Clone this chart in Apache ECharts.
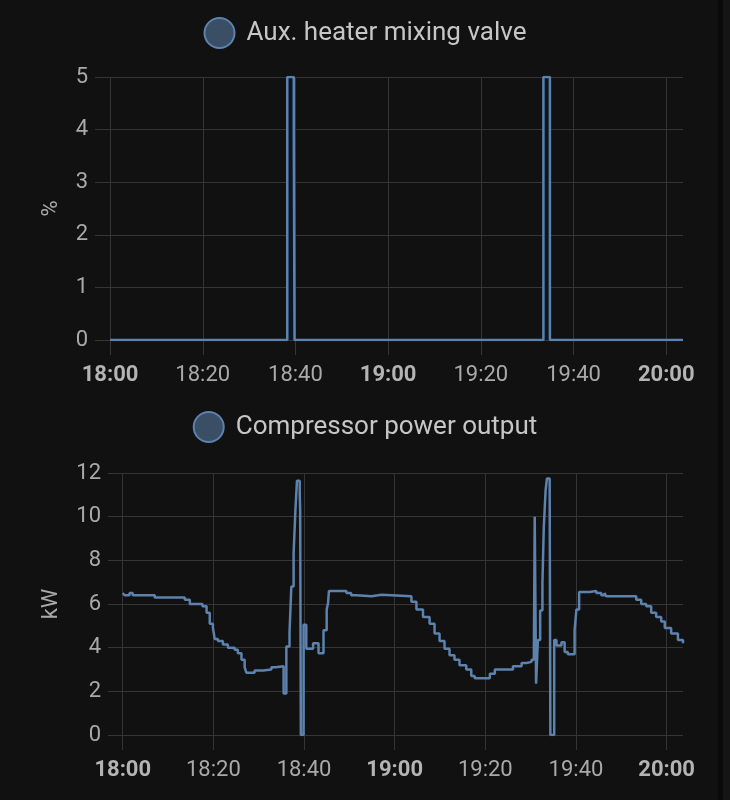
<!DOCTYPE html>
<html>
<head>
<meta charset="utf-8">
<style>
html,body{margin:0;padding:0;background:#111111;}
#chart{width:730px;height:800px;}
</style>
<script src="https://cdn.jsdelivr.net/npm/echarts@6/dist/echarts.min.js"></script>
</head>
<body>
<div id="chart"></div>
<script>
// ---- data ----
const axisStart = '17:56:45';
const axisEnd = '20:03:37';
const xTicks = ['18:00:00','18:20:00','18:40:00','19:00:00','19:20:00','19:40:00','20:00:00'];

const auxName = 'Aux. heater mixing valve';
const auxUnit = '%';
const auxTimes  = ['18:00:00','18:38:14','18:39:38','18:39:48','19:33:30','19:34:54','20:03:37'];
const auxValues = [0, 5, 4, 0, 5, 0, 0];

const compName = 'Compressor power output';
const compUnit = 'kW';
const compTimes = [
 '18:00:00','18:00:26','18:01:30','18:02:12','18:07:04','18:13:42','18:14:48','18:17:36','18:18:30','18:19:12',
 '18:19:54','18:20:18','18:21:00','18:22:06','18:23:12','18:24:42','18:25:24','18:26:12','18:26:54','18:27:18',
 '18:29:06','18:31:00','18:32:48','18:33:45','18:35:30','18:36:06','18:36:48','18:37:12','18:37:42','18:38:06',
 '18:38:27','18:39:03','18:39:09','18:39:18','18:39:54','18:40:30','18:42:00','18:43:12','18:44:18','18:45:00',
 '18:45:18','18:45:30','18:49:21','18:50:24','18:51:33','18:54:54','18:57:06','19:03:42','19:04:48','19:06:15',
 '19:07:42','19:08:48','19:09:54','19:11:00','19:12:06','19:13:12','19:14:18','19:15:48','19:16:54','19:17:39',
 '19:18:06','19:21:00','19:22:06','19:23:12','19:26:06','19:28:00','19:29:06','19:30:12','19:30:42','19:30:54',
 '19:31:12','19:31:36','19:32:06','19:32:36','19:32:54','19:33:18','19:33:36','19:34:12','19:34:21','19:35:12',
 '19:35:42','19:36:48','19:37:30','19:38:12','19:39:42','19:40:06','19:40:42','19:43:00','19:44:30','19:45:36',
 '19:46:18','19:46:42','19:52:36','19:53:18','19:54:24','19:55:30','19:56:36','19:57:42','19:58:48','19:59:36',
 '20:01:00','20:02:30','20:03:37'
];
const compValues = [
 6.5, 6.4, 6.5, 6.4, 6.3, 6.2, 6.0, 5.9, 5.6, 5.1,
 4.9, 4.4, 4.3, 4.15, 4.0, 3.9, 3.75, 3.45, 3.1, 2.85,
 2.95, 3.0, 3.1, 3.15, 1.9, 4.05, 4.7, 6.8, 8.3, 10.3,
 11.65, 11.1, 10.3, 0, 5.05, 3.95, 4.2, 3.75, 4.8, 5.75,
 6.05, 6.6, 6.5, 6.4, 6.35, 6.42, 6.35, 6.1, 5.75, 5.4,
 5.1, 4.65, 4.3, 3.95, 3.65, 3.45, 3.2, 3.0, 2.7, 2.6,
 2.6, 2.8, 3.0, 3.0, 3.15, 3.3, 3.35, 3.45, 3.5, 10.0,
 2.35, 4.35, 5.7, 6.95, 9.5, 11.2, 11.75, 11.2, 0, 4.35,
 4.1, 4.25, 3.8, 3.7, 4.8, 5.75, 6.55, 6.6, 6.5, 6.4,
 6.5, 6.35, 6.35, 6.2, 6.0, 5.9, 5.6, 5.4, 5.2, 4.9,
 4.65, 4.35, 4.2
];

// ---- helpers ----
function toDate(s){
  const p = s.split(':').map(Number);
  return new Date(2024, 0, 15, p[0], p[1], p[2]).getTime();
}
function pairs(times, values){ return times.map((t,i)=>[toDate(t), values[i]]); }

const lineColor = '#5c82ad';
const gridColor = '#353535';
const labelColor = '#a9a9a9';
const FONT = 'Roboto, "Noto Sans", sans-serif';
const tickValues = xTicks.map(toDate);

function xAxis(gridIndex){
  return {
    type: 'value', gridIndex,
    min: toDate(axisStart), max: toDate(axisEnd),
    axisLine: {show: false},
    axisTick: {show: true, length: 15, customValues: tickValues, lineStyle: {color: gridColor, width: 1}},
    splitLine: {show: true, lineStyle: {color: gridColor, width: 1}},
    axisLabel: {
      margin: 24, color: labelColor, fontSize: 22, fontFamily: FONT,
      customValues: tickValues, hideOverlap: false,
      formatter: function(v){
        const d = new Date(v);
        const hh = String(d.getHours()).padStart(2,'0');
        const mm = String(d.getMinutes()).padStart(2,'0');
        return mm === '00' ? '{b|' + hh + ':' + mm + '}' : hh + ':' + mm;
      },
      rich: { b: {fontWeight: 'bold', fontSize: 22, color: '#b4b4b4', fontFamily: FONT} }
    }
  };
}
function yAxis(gridIndex, max, interval, name, gap){
  return {
    type: 'value', gridIndex, min: 0, max, interval,
    name, nameLocation: 'middle', nameGap: gap, nameRotate: 90,
    nameTextStyle: {color: labelColor, fontSize: 22, fontFamily: FONT},
    axisLine: {show: false}, axisTick: {show: false},
    splitLine: {show: true, lineStyle: {color: gridColor, width: 1}},
    axisLabel: {margin: 7, color: labelColor, fontSize: 22, fontFamily: FONT}
  };
}
function legend(name, top){
  return {
    data: [name], top, left: 'center',
    icon: 'circle', itemWidth: 30, itemHeight: 30, itemGap: 10,
    itemStyle: {color: 'rgba(92,130,173,0.55)', borderColor: lineColor, borderWidth: 2},
    lineStyle: {width: 0},
    textStyle: {color: '#c6c6c6', fontSize: 26, fontFamily: FONT, padding: [0,0,0,7]}
  };
}

const chart = echarts.init(document.getElementById('chart'), null, {renderer: 'canvas'});
chart.setOption({
  backgroundColor: '#111111',
  animation: false,
  legend: [legend(auxName, 12), legend(compName, 406)],
  grid: [
    {left: 95, right: 47, top: 77, height: 263},
    {left: 108, right: 47, top: 473, height: 262}
  ],
  xAxis: [xAxis(0), xAxis(1)],
  yAxis: [yAxis(0, 5, 1, auxUnit, 33), yAxis(1, 12, 2, compUnit, 46)],
  graphic: [
    {type: 'rect', shape: {x: 718, y: 0, width: 5, height: 800}, style: {fill: '#0a0a0a'}, silent: true},
    {type: 'rect', shape: {x: 723, y: 0, width: 7, height: 800}, style: {fill: '#151515'}, silent: true}
  ],
  series: [
    {
      name: auxName, type: 'line', xAxisIndex: 0, yAxisIndex: 0,
      step: 'end', showSymbol: false, symbol: 'circle',
      itemStyle: {color: lineColor},
      lineStyle: {color: lineColor, width: 2.5},
      areaStyle: {color: '#0b1523', opacity: 1},
      data: pairs(auxTimes, auxValues)
    },
    {
      name: compName, type: 'line', xAxisIndex: 1, yAxisIndex: 1,
      step: 'end', showSymbol: false, symbol: 'circle',
      itemStyle: {color: lineColor},
      lineStyle: {color: lineColor, width: 2.5},
      data: pairs(compTimes, compValues)
    }
  ]
});
</script>
</body>
</html>
